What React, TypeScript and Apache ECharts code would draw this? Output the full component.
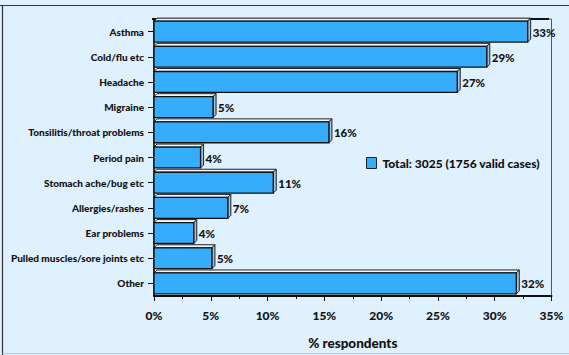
import React, { useEffect, useRef } from "react";
import * as echarts from "echarts";

const categories = [
  "Asthma",
  "Cold/flu etc",
  "Headache",
  "Migraine",
  "Tonsilitis/throat problems",
  "Period pain",
  "Stomach ache/bug etc",
  "Allergies/rashes",
  "Ear problems",
  "Pulled muscles/sore joints etc",
  "Other",
];
const values = [32.9, 29.3, 26.7, 5.2, 15.4, 4.1, 10.5, 6.5, 3.5, 5.1, 31.9];
const valueLabels = ["33%", "29%", "27%", "5%", "16%", "4%", "11%", "7%", "4%", "5%", "32%"];
const seriesName = "Total: 3025 (1756 valid cases)";
const xMin = 0;
const xMax = 35;
const xStep = 5;

const FONT = "Lato";
const W = 900;

export default function App() {
  const ref = useRef<HTMLDivElement>(null);
  useEffect(() => {
    if (!ref.current) return;
    const chart = echarts.init(ref.current, null, { renderer: "svg" });
    const depth = 3;
    const renderItem = (params: any, api: any) => {
      const v = api.value(0);
      const idx = api.value(1);
      const start = api.coord([0, idx]);
      const end = api.coord([v, idx]);
      const band = api.size([0, 1])[1];
      const h = band * 0.83;
      const x0 = start[0];
      const x1 = end[0];
      const yc = start[1];
      const yt = yc - h / 2;
      const yb = yc + h / 2;
      const d = depth;
      return {
        type: "group",
        children: [
          {
            type: "polygon",
            shape: { points: [[x0, yt], [x0 + d, yt - d], [x1 + d, yt - d], [x1, yt]] },
            style: { fill: "#eef6ff", stroke: "#222", lineWidth: 1 },
          },
          {
            type: "polygon",
            shape: { points: [[x1, yt], [x1 + d, yt - d], [x1 + d, yb - d], [x1, yb]] },
            style: { fill: "#9cc3e0", stroke: "#222", lineWidth: 1 },
          },
          {
            type: "rect",
            shape: { x: x0, y: yt, width: x1 - x0, height: h },
            style: { fill: "#36acfc", stroke: "#111", lineWidth: 1.3 },
          },
          {
            type: "text",
            x: x1 + d + 2,
            y: yc + 0.5,
            style: {
              text: valueLabels[idx],
              fill: "#111",
              fontSize: 11.5,
              fontWeight: W,
              fontFamily: FONT,
              verticalAlign: "middle",
              align: "left",
            },
          },
        ],
      };
    };
    chart.setOption({
      animation: false,
      backgroundColor: "#dff0fe",
      textStyle: { fontFamily: FONT },
      grid: {
        left: 154,
        right: 17.5,
        top: 19,
        bottom: 56.5,
        show: true,
        borderColor: "#555",
        borderWidth: 1,
        backgroundColor: "transparent",
      },
      legend: {
        show: true,
        left: 361,
        top: 152,
        icon: "rect",
        itemWidth: 10,
        itemHeight: 11,
        itemGap: 5,
        data: [seriesName],
        itemStyle: { color: "#36acfc", borderColor: "#222", borderWidth: 1 },
        textStyle: { fontSize: 12, fontWeight: W, color: "#111", fontFamily: FONT, padding: [0, 0, 0, 1] },
      },
      xAxis: {
        type: "value",
        min: xMin,
        max: xMax,
        interval: xStep,
        axisLine: { show: true, lineStyle: { color: "#111", width: 2 } },
        axisTick: { show: true, length: 5, lineStyle: { color: "#111", width: 1 } },
        minorTick: { show: true, splitNumber: 2, length: 3, lineStyle: { color: "#111", width: 1 } },
        splitLine: { show: false },
        axisLabel: {
          formatter: "{value}%",
          fontSize: 12,
          fontWeight: W,
          color: "#111",
          margin: 13,
          fontFamily: FONT,
        },
        name: "% respondents",
        nameLocation: "middle",
        nameGap: 40,
        nameTextStyle: { fontSize: 13.5, fontWeight: W, color: "#111", fontFamily: FONT },
      },
      yAxis: {
        type: "category",
        data: categories,
        inverse: true,
        axisLine: { show: true, lineStyle: { color: "#111", width: 1.5 } },
        axisTick: { show: true, alignWithLabel: true, length: 6, lineStyle: { color: "#111" } },
        axisLabel: { fontSize: 10, fontWeight: W, color: "#111", margin: 10, fontFamily: FONT },
      },
      graphic: [
        { type: "line", shape: { x1: 0, y1: 5.5, x2: 569, y2: 5.5 }, style: { stroke: "#333", lineWidth: 1.2 } },
        { type: "line", shape: { x1: 2.5, y1: 5.5, x2: 2.5, y2: 355 }, style: { stroke: "#333", lineWidth: 1.2 } },
        { type: "line", shape: { x1: 2.5, y1: 353.5, x2: 569, y2: 353.5 }, style: { stroke: "#b8c8d8", lineWidth: 1 } },
        { type: "line", shape: { x1: 152, y1: 19, x2: 549, y2: 19 }, style: { stroke: "#111", lineWidth: 2 } },
      ],
      series: [
        {
          type: "custom",
          name: seriesName,
          itemStyle: { color: "#36acfc" },
          encode: { x: 0, y: 1 },
          renderItem,
          data: values.map((v, i) => [v, i]),
        },
      ],
    });
    return () => chart.dispose();
  }, []);
  return (
    <div
      ref={ref}
      style={{ position: "fixed", left: 0, top: 0, width: 569, height: 355 }}
    />
  );
}
